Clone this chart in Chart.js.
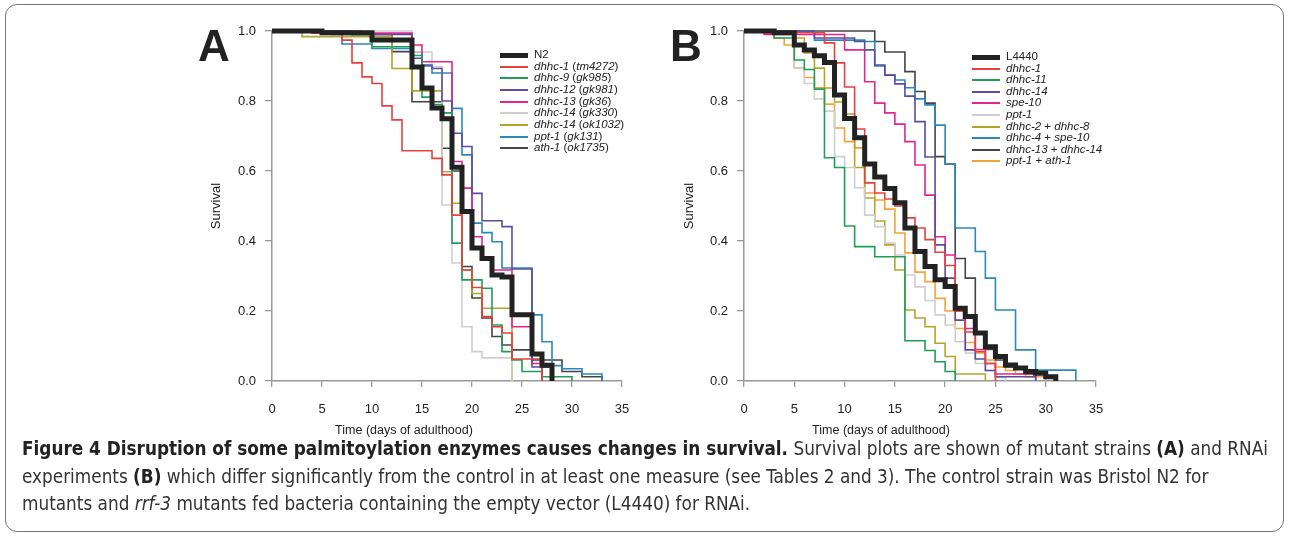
<!DOCTYPE html>
<html>
<head>
<meta charset="utf-8">
<script src="https://cdn.jsdelivr.net/npm/chart.js@4.4.1/dist/chart.umd.min.js"></script>
<style>
  html,body{margin:0;padding:0;background:#fff;width:1290px;height:537px;overflow:hidden;}
  #frame{position:absolute;left:5px;top:4px;width:1279px;height:528px;border:1px solid #777;border-radius:12px;box-sizing:border-box;}
  canvas{position:absolute;top:0;}
  .lbl{position:absolute;font-family:"Liberation Sans",Arial,sans-serif;color:#222;white-space:nowrap;}
  .letter{font-weight:bold;font-size:44px;line-height:44px;transform:translateX(-50%);}
  .ylab{font-size:13px;transform:translate(-50%,-50%) rotate(-90deg);}
  .xlab{font-size:12.5px;transform:translate(-50%,-50%);}
  .leg{position:absolute;font-family:"Liberation Sans",Arial,sans-serif;font-size:11.5px;color:#222;}
  .leg .row{position:absolute;left:0;white-space:nowrap;height:12px;}
  .leg .sw{position:absolute;left:0;width:28px;}
  .leg .tx{position:absolute;left:34px;top:-7px;line-height:13px;}
  #cap{position:absolute;left:22px;top:435px;font-family:"Liberation Sans Narrow","DejaVu Sans Condensed","Liberation Sans",sans-serif;color:#333;white-space:nowrap;line-height:27.5px;}
  #cap b{color:#222;}
</style>
</head>
<body>
<div id="frame"></div>
<canvas id="cA" width="645" height="430" style="left:0"></canvas>
<canvas id="cB" width="645" height="430" style="left:645px"></canvas>

<div class="lbl letter" style="left:214px;top:24px">A</div>
<div class="lbl letter" style="left:686px;top:24px">B</div>
<div class="lbl ylab" style="left:215px;top:206px">Survival</div>
<div class="lbl ylab" style="left:688px;top:206px">Survival</div>
<div class="lbl xlab" style="left:404px;top:430px">Time (days of adulthood)</div>
<div class="lbl xlab" style="left:881px;top:430px">Time (days of adulthood)</div>

<div id="legA" class="leg" style="left:500px;top:55px"></div>
<div id="legB" class="leg" style="left:972px;top:57px"></div>

<div id="cap"><span id="l1"><b>Figure 4 Disruption of some palmitoylation enzymes causes changes in survival.</b> Survival plots are shown of mutant strains <b>(A)</b> and RNAi</span><br><span id="l2">experiments <b>(B)</b> which differ significantly from the control in at least one measure (see Tables 2 and 3). The control strain was Bristol N2 for</span><br><span id="l3">mutants and <i>rrf-3</i> mutants fed bacteria containing the empty vector (L4440) for RNAi.</span></div>

<script>
// ---------- axis ticks ----------
const xTicks = [0, 5, 10, 15, 20, 25, 30, 35];
const yTicks = [0, 0.2, 0.4, 0.6, 0.8, 1.0];

// ---------- Panel A (mutants) ----------
const labelsA = ["N2", "dhhc-1 (tm4272)", "dhhc-9 (gk985)", "dhhc-12 (gk981)", "dhhc-13 (gk36)", "dhhc-14 (gk330)", "dhhc-14 (ok1032)", "ppt-1 (gk131)", "ath-1 (ok1735)"];
const legendHtmlA = ["N2", "<i>dhhc-1</i> (<i>tm4272</i>)", "<i>dhhc-9</i> (<i>gk985</i>)", "<i>dhhc-12</i> (<i>gk981</i>)", "<i>dhhc-13</i> (<i>gk36</i>)", "<i>dhhc-14</i> (<i>gk330</i>)", "<i>dhhc-14</i> (<i>ok1032</i>)", "<i>ppt-1</i> (<i>gk131</i>)", "<i>ath-1</i> (<i>ok1735</i>)"];

const daysN2   = [0, 5, 10, 14, 15, 16, 17, 18, 19, 20, 21, 22, 23, 24, 26, 27, 28];
const survN2   = [1, 0.995, 0.974, 0.897, 0.837, 0.78, 0.749, 0.611, 0.484, 0.38, 0.35, 0.303, 0.297, 0.189, 0.077, 0.045, 0];

const daysA1   = [0, 4, 7, 8, 9, 10, 11, 12, 13, 16, 17, 18, 19, 20, 21, 22, 23, 24, 27];
const survA1   = [1, 0.994, 0.974, 0.909, 0.869, 0.85, 0.786, 0.746, 0.658, 0.636, 0.589, 0.474, 0.317, 0.267, 0.184, 0.155, 0.137, 0.063, 0];

const daysA9   = [0, 6, 10, 14, 15, 16, 17, 18, 19, 21, 22, 23, 24, 25, 27, 30];
const survA9   = [1, 0.99, 0.955, 0.93, 0.811, 0.79, 0.766, 0.394, 0.289, 0.265, 0.16, 0.084, 0.06, 0.027, 0.012, 0];

const daysA12  = [0, 8, 14, 15, 16, 17, 18, 19, 20, 21, 23, 24, 26, 28];
const survA12  = [1, 0.99, 0.922, 0.903, 0.893, 0.8, 0.708, 0.67, 0.536, 0.458, 0.441, 0.32, 0.04, 0];

const daysA13  = [0, 9, 14, 15, 18, 19, 20, 21, 22, 24, 26, 27];
const survA13  = [1, 0.994, 0.96, 0.912, 0.627, 0.551, 0.412, 0.351, 0.317, 0.155, 0.05, 0];

const daysA14a = [0, 14, 16, 17, 18, 19, 20, 21, 24];
const survA14a = [1, 0.94, 0.898, 0.503, 0.337, 0.155, 0.084, 0.066, 0];

const daysA14b = [0, 3, 12, 14, 17, 18, 19, 20, 21, 24];
const survA14b = [1, 0.984, 0.893, 0.829, 0.598, 0.508, 0.317, 0.25, 0.208, 0];

const daysAppt = [0, 7, 10, 14, 15, 16, 18, 19, 20, 21, 22, 23, 26, 27, 28, 29, 31, 33];
const survAppt = [1, 0.963, 0.95, 0.94, 0.9, 0.88, 0.779, 0.646, 0.451, 0.424, 0.398, 0.323, 0.189, 0.112, 0.044, 0.035, 0.02, 0];

const daysAath = [0, 8, 12, 14, 17, 18, 19, 20, 21, 22, 23, 24, 26, 29, 31, 33];
const survAath = [1, 0.99, 0.941, 0.798, 0.665, 0.6, 0.327, 0.237, 0.18, 0.127, 0.103, 0.089, 0.06, 0.027, 0.012, 0];

// ---------- Panel B (RNAi) ----------
const labelsB = ["L4440", "dhhc-1", "dhhc-11", "dhhc-14", "spe-10", "ppt-1", "dhhc-2 + dhhc-8", "dhhc-4 + spe-10", "dhhc-13 + dhhc-14", "ppt-1 + ath-1"];
const legendHtmlB = ["L4440", "<i>dhhc-1</i>", "<i>dhhc-11</i>", "<i>dhhc-14</i>", "<i>spe-10</i>", "<i>ppt-1</i>", "<i>dhhc-2</i> + <i>dhhc-8</i>", "<i>dhhc-4</i> + <i>spe-10</i>", "<i>dhhc-13</i> + <i>dhhc-14</i>", "<i>ppt-1</i> + <i>ath-1</i>"];

const daysL4440 = [0, 3, 5, 6, 7, 8, 9, 10, 11, 12, 13, 14, 15, 16, 17, 18, 19, 20, 21, 22, 23, 24, 25, 26, 27, 28, 29, 30, 31];
const survL4440 = [1, 0.995, 0.96, 0.946, 0.929, 0.91, 0.817, 0.75, 0.695, 0.62, 0.583, 0.55, 0.509, 0.437, 0.37, 0.327, 0.289, 0.27, 0.208, 0.184, 0.137, 0.098, 0.07, 0.046, 0.037, 0.027, 0.022, 0.012, 0];

const daysB1   = [0, 2, 8, 9, 10, 11, 12, 13, 14, 15, 16, 17, 18, 19, 20, 21, 22, 23, 24, 25];
const survB1   = [1, 0.995, 0.966, 0.909, 0.84, 0.72, 0.566, 0.537, 0.52, 0.5, 0.466, 0.437, 0.404, 0.368, 0.33, 0.2, 0.14, 0.084, 0.05, 0];

const daysB11  = [0, 3, 5, 6, 7, 8, 9, 10, 11, 13, 16, 18, 19, 20, 21];
const survB11  = [1, 0.98, 0.917, 0.89, 0.834, 0.638, 0.61, 0.443, 0.384, 0.355, 0.115, 0.087, 0.055, 0.027, 0];

const daysB14  = [0, 7, 11, 12, 13, 14, 15, 16, 17, 18, 19, 20, 21, 22, 23, 24, 25, 29];
const survB14  = [1, 0.98, 0.97, 0.946, 0.903, 0.874, 0.849, 0.814, 0.741, 0.64, 0.389, 0.294, 0.174, 0.089, 0.063, 0.03, 0.012, 0];

const daysBspe = [0, 2, 10, 12, 13, 14, 15, 16, 17, 18, 19, 20, 21, 22, 23, 24, 25, 29];
const survBspe = [1, 0.99, 0.946, 0.855, 0.794, 0.766, 0.734, 0.684, 0.617, 0.531, 0.412, 0.36, 0.2, 0.15, 0.09, 0.05, 0.02, 0];

const daysBppt = [0, 2, 5, 6, 7, 8, 9, 10, 11, 12, 13, 14, 15, 16, 17, 18, 19, 20, 21, 22, 23, 24, 25, 26];
const survBppt = [1, 0.995, 0.894, 0.85, 0.806, 0.771, 0.641, 0.61, 0.552, 0.474, 0.441, 0.394, 0.36, 0.303, 0.269, 0.23, 0.189, 0.16, 0.112, 0.08, 0.05, 0.03, 0.01, 0];

const daysB28  = [0, 5, 6, 7, 8, 9, 10, 11, 12, 13, 14, 15, 16, 17, 18, 19, 20, 21, 24];
const survB28  = [1, 0.98, 0.937, 0.894, 0.837, 0.797, 0.763, 0.61, 0.523, 0.457, 0.389, 0.317, 0.203, 0.18, 0.155, 0.108, 0.07, 0.02, 0];

const daysB4s  = [0, 7, 12, 13, 14, 15, 16, 17, 18, 19, 20, 21, 23, 24, 25, 27, 29, 33];
const survB4s  = [1, 0.974, 0.97, 0.9, 0.874, 0.86, 0.838, 0.806, 0.789, 0.731, 0.62, 0.437, 0.37, 0.294, 0.203, 0.089, 0.031, 0];

const daysB1314 = [0, 13, 14, 16, 17, 18, 19, 20, 21, 22, 23, 24, 25, 26, 28, 30, 31];
const survB1314 = [1, 0.97, 0.94, 0.884, 0.827, 0.794, 0.641, 0.62, 0.35, 0.294, 0.137, 0.09, 0.06, 0.04, 0.02, 0.01, 0];

const daysBpa  = [0, 2, 3, 4, 5, 6, 7, 8, 9, 10, 11, 12, 13, 14, 15, 16, 17, 18, 19, 20, 21, 22, 23, 24, 25, 26, 27, 28, 30];
const survBpa  = [1, 0.994, 0.98, 0.96, 0.895, 0.867, 0.838, 0.791, 0.723, 0.684, 0.666, 0.537, 0.517, 0.491, 0.423, 0.366, 0.311, 0.284, 0.236, 0.2, 0.15, 0.11, 0.08, 0.06, 0.04, 0.03, 0.02, 0.012, 0];

// ---------- colours ----------
const colBlack = "#222222", colRed = "#e5403e", colGreen = "#1f9e57", colPurple = "#5b4ea0",
      colMagenta = "#e4258c", colLight = "#cfcfcf", colOlive = "#b3a52b", colTeal = "#2a88bb",
      colDark = "#444444", colOrange = "#f2a33a";

function pts(days, surv) { return days.map((d, i) => ({ x: d, y: surv[i] })); }
function ds(label, days, surv, color, w) {
  return { label, data: pts(days, surv), borderColor: color, backgroundColor: color, borderWidth: w,
           stepped: true, pointRadius: 0, fill: false, clip: false, borderCapStyle: "butt", borderJoinStyle: "miter" };
}

const seriesA = [
  [daysN2, survN2, colBlack, 5],
  [daysA1, survA1, colRed, 1.6],
  [daysA9, survA9, colGreen, 1.6],
  [daysA12, survA12, colPurple, 1.6],
  [daysA13, survA13, colMagenta, 1.6],
  [daysA14a, survA14a, colLight, 1.6],
  [daysA14b, survA14b, colOlive, 1.6],
  [daysAppt, survAppt, colTeal, 1.6],
  [daysAath, survAath, colDark, 1.6]
];
const seriesB = [
  [daysL4440, survL4440, colBlack, 5],
  [daysB1, survB1, colRed, 1.6],
  [daysB11, survB11, colGreen, 1.6],
  [daysB14, survB14, colPurple, 1.6],
  [daysBspe, survBspe, colMagenta, 1.6],
  [daysBppt, survBppt, colLight, 1.6],
  [daysB28, survB28, colOlive, 1.6],
  [daysB4s, survB4s, colTeal, 1.6],
  [daysB1314, survB1314, colDark, 1.6],
  [daysBpa, survBpa, colOrange, 1.6]
];

function makeChart(id, labels, series, yWidth, padRight) {
  const axisCol = "#999999";
  const tickFont = { family: "'Liberation Sans', Arial, sans-serif", size: 13 };
  return new Chart(document.getElementById(id), {
    type: "line",
    data: { datasets: series.map((s, i) => ds(labels[i], s[0], s[1], s[2], s[3])) },
    options: {
      responsive: false, animation: false, devicePixelRatio: 1,
      layout: { padding: { left: 0, top: 31, right: padRight, bottom: 9 } },
      plugins: { legend: { display: false }, tooltip: { enabled: false } },
      scales: {
        x: {
          type: "linear", min: 0, max: 35,
          afterBuildTicks: (s) => { s.ticks = xTicks.map(v => ({ value: v })); },
          afterFit: (s) => { s.height = 40; },
          ticks: { color: "#222", font: tickFont, padding: 15, maxRotation: 0 },
          grid: { display: true, drawOnChartArea: false, drawTicks: true, tickLength: 6, color: axisCol, lineWidth: 1.3 },
          border: { display: true, color: axisCol, width: 1.5 }
        },
        y: {
          type: "linear", min: 0, max: 1,
          afterBuildTicks: (s) => { s.ticks = yTicks.map(v => ({ value: v })); },
          afterFit: (s) => { s.width = yWidth; },
          ticks: { color: "#222", font: tickFont, padding: 9, callback: (v) => Number(v).toFixed(1) },
          grid: { display: true, drawOnChartArea: false, drawTicks: true, tickLength: 7, color: axisCol, lineWidth: 1.3 },
          border: { display: true, color: axisCol, width: 1.5 }
        }
      }
    }
  });
}

makeChart("cA", labelsA, seriesA, 272, 23);
makeChart("cB", labelsB, seriesB, 99, 194);

// ---------- legends ----------
function buildLegend(id, html, series, step) {
  const box = document.getElementById(id);
  html.forEach((h, i) => {
    const row = document.createElement("div");
    row.className = "row";
    row.style.top = (i * step) + "px";
    const w = series[i][3] > 2 ? 5 : 2;
    row.innerHTML = '<div class="sw" style="top:' + (-w / 2) + 'px;height:' + w + 'px;background:' + series[i][2] + '"></div><div class="tx">' + h + '</div>';
    box.appendChild(row);
  });
}
buildLegend("legA", legendHtmlA, seriesA, 11.65);
buildLegend("legB", legendHtmlB, seriesB, 11.6);

// ---------- caption fit ----------
(function () {
  const cap = document.getElementById("cap");
  let fs = 19;
  cap.style.fontSize = fs + "px";
  const w = document.getElementById("l1").getBoundingClientRect().width;
  fs = fs * 1246 / w;
  cap.style.fontSize = fs.toFixed(2) + "px";
})();
</script>
</body>
</html>
